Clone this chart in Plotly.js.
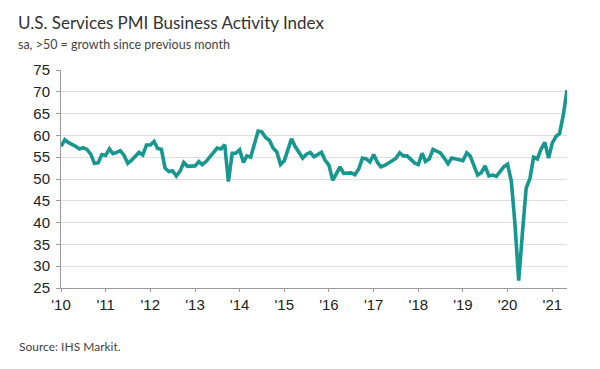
<!DOCTYPE html>
<html>
<head>
<meta charset="utf-8">
<script src="https://cdn.plot.ly/plotly-3.0.1.min.js"></script>
<style>html,body{margin:0;padding:0;background:#fff;}#chart{width:600px;height:369px;}</style>
</head>
<body>
<div id="chart"></div>
<script>
// Monthly values, Jan 2010 .. May 2021
const startYear = 2010;
const pmi2010 = [57.5, 59.0, 58.4, 58.0, 57.5, 56.9, 57.2, 56.8, 55.7, 53.6, 53.7, 55.6];
const pmi2011 = [55.4, 56.9, 55.8, 56.1, 56.5, 55.4, 53.6, 54.3, 55.3, 56.1, 55.5, 57.8];
const pmi2012 = [57.8, 58.6, 57.0, 56.8, 52.5, 51.7, 51.9, 50.7, 51.8, 53.8, 52.9, 53.0];
const pmi2013 = [53.0, 54.0, 53.3, 54.0, 55.0, 56.3, 57.1, 56.9, 57.9, 49.4, 55.9, 55.9];
const pmi2014 = [56.7, 53.8, 55.3, 55.0, 58.1, 61.0, 60.8, 59.5, 58.9, 57.1, 56.2, 53.3];
const pmi2015 = [54.2, 57.1, 59.2, 57.4, 56.2, 54.8, 55.7, 56.1, 55.1, 55.6, 56.1, 54.3];
const pmi2016 = [53.2, 49.7, 51.3, 52.8, 51.3, 51.4, 51.4, 51.0, 52.3, 54.8, 54.6, 53.9];
const pmi2017 = [55.6, 53.8, 52.8, 53.1, 53.6, 54.2, 54.7, 56.0, 55.3, 55.3, 54.5, 53.7];
const pmi2018 = [53.3, 55.9, 54.0, 54.6, 56.8, 56.5, 56.0, 54.8, 53.5, 54.8, 54.7, 54.4];
const pmi2019 = [54.2, 56.0, 55.3, 53.0, 50.9, 51.5, 53.0, 50.7, 50.9, 50.6, 51.6, 52.8];
const pmi2020 = [53.4, 49.4, 39.8, 26.7, 37.5, 47.9, 50.0, 55.0, 54.6, 56.9, 58.4, 54.8];
const pmi2021 = [58.3, 59.8, 60.4, 64.7, 70.4];

const yTickVals = [25, 30, 35, 40, 45, 50, 55, 60, 65, 70, 75];
const xTickYears = [2010, 2011, 2012, 2013, 2014, 2015, 2016, 2017, 2018, 2019, 2020, 2021];
const xTickLabels = ["'10", "'11", "'12", "'13", "'14", "'15", "'16", "'17", "'18", "'19", "'20", "'21"];

const titleText = "U.S. Services PMI Business Activity Index";
const subtitleText = "sa, &gt;50 = growth since previous month";
const sourceText = "Source: IHS Markit.";

const values = [].concat(pmi2010, pmi2011, pmi2012, pmi2013, pmi2014, pmi2015,
  pmi2016, pmi2017, pmi2018, pmi2019, pmi2020, pmi2021);
const dates = values.map((v, i) => {
  const y = startYear + Math.floor(i / 12);
  const m = (i % 12) + 1;
  return y + '-' + String(m).padStart(2, '0') + '-01';
});
const xTickVals = xTickYears.map(y => y + '-01-01');

const W = 600, H = 369;
const mL = 61, mR = 33, mT = 70, mB = 81;
const pw = W - mL - mR, ph = H - mT - mB;
const px = x => (x - mL) / pw;
const py = y => (H - mB - y) / ph;

const tickFont = {family: 'Liberation Sans, Arial, sans-serif', size: 15, color: '#222'};

const trace = {
  x: dates, y: values, type: 'scatter', mode: 'lines',
  line: {color: '#17978f', width: 3.6, shape: 'linear'},
  hoverinfo: 'skip'
};

const layout = {
  width: W, height: H,
  margin: {l: mL, r: mR, t: mT, b: mB, pad: 0},
  paper_bgcolor: '#fff', plot_bgcolor: '#fff',
  showlegend: false,
  xaxis: {
    type: 'date',
    range: [dates[0], dates[dates.length - 1]],
    tickvals: xTickVals, ticktext: xTickLabels,
    ticks: 'outside', ticklen: 3, tickcolor: '#9a9a9a', tickwidth: 1,
    showline: true, linecolor: '#9a9a9a', linewidth: 1,
    showgrid: false, zeroline: false,
    tickfont: tickFont
  },
  yaxis: {
    range: [25, 75],
    tickvals: yTickVals,
    ticks: 'outside', ticklen: 4, tickcolor: '#9a9a9a', tickwidth: 1,
    ticklabelstandoff: 3,
    showline: true, linecolor: '#9a9a9a', linewidth: 1,
    showgrid: true, gridcolor: '#dedede', gridwidth: 1,
    zeroline: false,
    tickfont: tickFont
  },
  annotations: [
    {text: titleText, xref: 'paper', yref: 'paper', x: px(16), y: py(22), xanchor: 'left', yanchor: 'middle',
     showarrow: false, font: {family: 'Lato, sans-serif', size: 17, color: '#333'}},
    {text: subtitleText, xref: 'paper', yref: 'paper', x: px(16), y: py(44), xanchor: 'left', yanchor: 'middle',
     showarrow: false, font: {family: 'Lato, sans-serif', size: 12.5, color: '#444'}},
    {text: sourceText, xref: 'paper', yref: 'paper', x: px(17), y: py(346), xanchor: 'left', yanchor: 'middle',
     showarrow: false, font: {family: 'Lato, sans-serif', size: 12, color: '#444'}}
  ]
};

Plotly.newPlot('chart', [trace], layout, {staticPlot: true, displayModeBar: false});
</script>
</body>
</html>
